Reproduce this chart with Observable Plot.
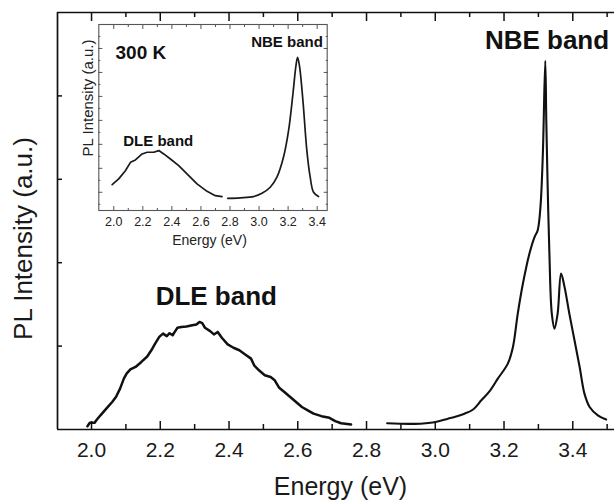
<!DOCTYPE html>
<html><head><meta charset="utf-8">
<script src="https://cdn.jsdelivr.net/npm/d3@7"></script>
<script src="https://cdn.jsdelivr.net/npm/@observablehq/plot@0.6"></script>
<style>
body{margin:0;background:#fff;}
#wrap{position:relative;width:614px;height:501px;overflow:hidden;background:#fff;}
#wrap svg{position:absolute;left:0;top:0;overflow:visible;}
</style></head><body><div id="wrap"></div>
<script>
// ---- main spectrum (PL, arbitrary units) ----
const dleEnergy = [1.988,1.995,2.009,2.014,2.026,2.043,2.060,2.071,2.083,2.094,2.102,2.113,2.128,2.145,2.162,2.174,2.185,2.197,2.208,2.219,2.227,2.236,2.242,2.250,2.261,2.276,2.293,2.305,2.314,2.322,2.330,2.345,2.356,2.367,2.379,2.396,2.413,2.430,2.447,2.464,2.473,2.487,2.504,2.521,2.533,2.546,2.561,2.578,2.595,2.612,2.629,2.646,2.669,2.692,2.709,2.726,2.738,2.755];
const dleIntensity = [0.04,0.08,0.08,0.11,0.17,0.25,0.33,0.39,0.49,0.61,0.67,0.72,0.75,0.81,0.875,0.95,1.03,1.11,1.15,1.12,1.155,1.13,1.17,1.22,1.23,1.235,1.25,1.26,1.29,1.275,1.22,1.18,1.14,1.17,1.10,1.02,0.98,0.95,0.90,0.85,0.77,0.71,0.65,0.63,0.59,0.50,0.45,0.39,0.33,0.27,0.23,0.19,0.16,0.14,0.10,0.075,0.07,0.06];
const nbeEnergy = [2.860,2.939,2.998,3.037,3.056,3.085,3.110,3.134,3.160,3.182,3.211,3.226,3.240,3.255,3.274,3.289,3.298,3.306,3.313,3.320,3.323,3.327,3.332,3.339,3.347,3.356,3.366,3.376,3.390,3.405,3.420,3.434,3.449,3.473,3.497];
const nbeIntensity = [0.075,0.068,0.088,0.13,0.15,0.19,0.24,0.35,0.47,0.61,0.79,0.99,1.39,1.75,2.11,2.31,2.39,2.67,3.31,4.42,3.70,2.91,2.11,1.39,1.21,1.39,1.87,1.71,1.39,1.07,0.75,0.43,0.27,0.17,0.12];

// ---- inset spectrum (300 K) ----
const insetDleEnergy = [1.989,2.034,2.080,2.115,2.149,2.195,2.230,2.275,2.310,2.344,2.390,2.447,2.504,2.573,2.642,2.699,2.745];
const insetDleIntensity = [0.32,0.56,0.90,1.25,1.35,1.60,1.67,1.67,1.74,1.60,1.39,1.11,0.77,0.35,0.04,-0.14,-0.18];
const insetNbeEnergy = [2.784,2.871,2.962,3.020,3.077,3.123,3.168,3.203,3.233,3.254,3.265,3.278,3.302,3.329,3.352,3.375,3.409];
const insetNbeIntensity = [-0.25,-0.23,-0.18,-0.04,0.21,0.63,1.46,2.57,4.10,5.28,5.63,5.28,3.82,1.74,0.63,0,-0.18];

// ---- ticks & texts ----
const majorTicks = [2.0,2.2,2.4,2.6,2.8,3.0,3.2,3.4];
const minorTicks = [2.1,2.3,2.5,2.7,2.9,3.1,3.3,3.5];
const yTicks = [1,2,3,4];
const insetMinorTicks = [2.1,2.3,2.5,2.7,2.9,3.1,3.3];
const insetYTicks = [0,1,2,3,4,5,6];
const insetYMinor = [-0.5,0.5,1.5,2.5,3.5,4.5,5.5,6.5];
const xDomain = [1.901, 3.5214];
const yDomain = [0, 5];
const insetXDomain = [1.897, 3.469];
const insetYDomain = [-0.76, 7];
const bandLabels = ["DLE band", "NBE band"];
const bandLabelEnergy = [2.363, 3.325];
const bandLabelLevel = [1.487, 4.568];
const insetDleLabel = {text: "DLE band", energy: 2.306, level: 1.95};
const insetNbeLabel = {text: "NBE band", energy: 3.439, level: 6.07};
const insetTempLabel = {text: "300 K", energy: 2.012, level: 5.57};

const font = "'Liberation Sans', Arial, Helvetica, sans-serif";
const zip = (xs, ys) => xs.map((x, i) => ({x, y: ys[i]}));
const fmt = d3.format(".1f");

const main = Plot.plot({
  width: 614, height: 501,
  marginLeft: 57, marginRight: 0, marginTop: 12, marginBottom: 72,
  style: {fontFamily: font, background: "transparent", color: "#111"},
  x: {domain: xDomain},
  y: {domain: yDomain},
  marks: [
    Plot.ruleY(yDomain, {stroke: "#111", strokeWidth: 1.7}),
    Plot.ruleX([xDomain[0]], {stroke: "#111", strokeWidth: 1.7}),
    Plot.axisX(majorTicks, {anchor: "bottom", tickSize: -8, strokeWidth: 1.5, fill: "none", label: null}),
    Plot.axisX(minorTicks, {anchor: "bottom", tickSize: -5, strokeWidth: 1.5, fill: "none", label: null}),
    Plot.axisX(majorTicks, {anchor: "top", tickSize: -8, strokeWidth: 1.5, fill: "none", label: null}),
    Plot.axisX(minorTicks, {anchor: "top", tickSize: -4, strokeWidth: 1.5, fill: "none", label: null}),
    Plot.axisX(majorTicks, {anchor: "bottom", tickSize: 0, tickPadding: 12.5, fontSize: 21, tickFormat: fmt, fill: "#1a1a1a", label: null}),
    Plot.axisY(yTicks, {anchor: "left", tickSize: -5, strokeWidth: 1.5, fill: "none", label: null}),
    Plot.line(zip(dleEnergy, dleIntensity), {x: "x", y: "y", stroke: "#111", strokeWidth: 2.5, curve: "linear"}),
    Plot.line(zip(nbeEnergy, nbeIntensity), {x: "x", y: "y", stroke: "#111", strokeWidth: 2.1, curve: "catmull-rom"}),
    Plot.text(bandLabels, {x: (d, i) => bandLabelEnergy[i], y: (d, i) => bandLabelLevel[i], text: d => d,
      fontSize: 26, fontWeight: "bold", fill: "#111", lineAnchor: "bottom", textAnchor: "middle"}),
    Plot.text(["PL Intensity (a.u.)"], {frameAnchor: "left", rotate: -90, dx: -34, dy: 17.5, text: d => d,
      fontSize: 26, fill: "#1a1a1a", lineAnchor: "middle", textAnchor: "middle"}),
    Plot.text(["Energy (eV)"], {frameAnchor: "bottom", dx: 4.5, dy: 57, text: d => d,
      fontSize: 25, fill: "#1a1a1a", lineAnchor: "middle", textAnchor: "middle"})
  ]
});

const inset = Plot.plot({
  width: 340, height: 250,
  marginLeft: 98.3, marginRight: 13.3, marginTop: 24, marginBottom: 40,
  style: {fontFamily: font, background: "transparent", color: "#222"},
  x: {domain: insetXDomain},
  y: {domain: insetYDomain},
  marks: [
    Plot.frame({stroke: "#555", strokeWidth: 1.1}),
    Plot.axisX(majorTicks, {anchor: "bottom", tickSize: -4, stroke: "#555", fill: "none", label: null}),
    Plot.axisX(insetMinorTicks, {anchor: "bottom", tickSize: -2, stroke: "#555", fill: "none", label: null}),
    Plot.axisX(majorTicks, {anchor: "top", tickSize: -4, stroke: "#555", fill: "none", label: null}),
    Plot.axisX(insetMinorTicks, {anchor: "top", tickSize: -2, stroke: "#555", fill: "none", label: null}),
    Plot.axisY(insetYTicks, {anchor: "left", tickSize: -4, stroke: "#555", fill: "none", label: null}),
    Plot.axisY(insetYMinor, {anchor: "left", tickSize: -2, stroke: "#555", fill: "none", label: null}),
    Plot.axisY(insetYTicks, {anchor: "right", tickSize: -4, stroke: "#555", fill: "none", label: null}),
    Plot.axisY(insetYMinor, {anchor: "right", tickSize: -2, stroke: "#555", fill: "none", label: null}),
    Plot.axisX(majorTicks, {anchor: "bottom", tickSize: 0, tickPadding: 6.5, fontSize: 12.5, tickFormat: fmt, fill: "#222", label: null}),
    Plot.line(zip(insetDleEnergy, insetDleIntensity), {x: "x", y: "y", stroke: "#1a1a1a", strokeWidth: 1.7}),
    Plot.line(zip(insetNbeEnergy, insetNbeIntensity), {x: "x", y: "y", stroke: "#1a1a1a", strokeWidth: 1.7, curve: "catmull-rom"}),
    Plot.text([insetDleLabel], {x: "energy", y: "level", text: "text", fontSize: 15, fontWeight: "bold", fill: "#111",
      lineAnchor: "bottom", textAnchor: "middle"}),
    Plot.text([insetNbeLabel], {x: "energy", y: "level", text: "text", fontSize: 15, fontWeight: "bold", fill: "#111",
      lineAnchor: "bottom", textAnchor: "end"}),
    Plot.text([insetTempLabel], {x: "energy", y: "level", text: "text", fontSize: 19, fontWeight: "bold", fill: "#111",
      lineAnchor: "bottom", textAnchor: "start"}),
    Plot.text(["PL Intensity (a.u.)"], {frameAnchor: "left", rotate: -90, dx: -10.3, dy: -19.5, text: d => d,
      fontSize: 15, fill: "#222", lineAnchor: "middle", textAnchor: "middle"}),
    Plot.text(["Energy (eV)"], {frameAnchor: "bottom", dx: -3.5, dy: 30, text: d => d,
      fontSize: 14, fill: "#222", lineAnchor: "middle", textAnchor: "middle"})
  ]
});

const wrap = document.getElementById("wrap");
wrap.appendChild(main);
wrap.appendChild(inset);
</script>
</body></html>
